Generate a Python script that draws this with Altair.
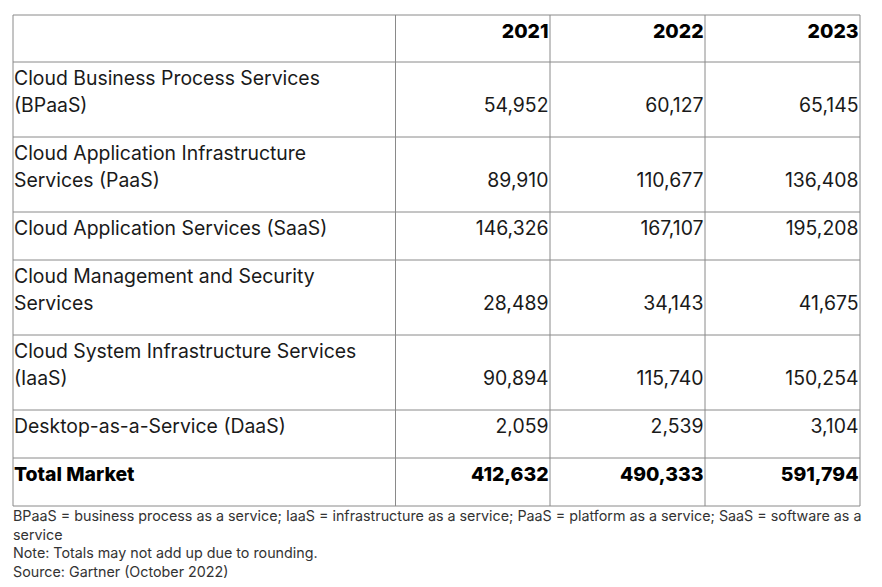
import altair as alt
import pandas as pd

# ---------------- data ----------------
years = ["2021", "2022", "2023"]
segments = [
    "Cloud Business Process Services\n(BPaaS)",
    "Cloud Application Infrastructure\nServices (PaaS)",
    "Cloud Application Services (SaaS)",
    "Cloud Management and Security\nServices",
    "Cloud System Infrastructure Services\n(IaaS)",
    "Desktop-as-a-Service (DaaS)",
]
v2021 = [54952, 89910, 146326, 28489, 90894, 2059]
v2022 = [60127, 110677, 167107, 34143, 115740, 2539]
v2023 = [65145, 136408, 195208, 41675, 150254, 3104]
total_label = "Total Market"
totals = [412632, 490333, 591794]
footnotes = [
    "BPaaS = business process as a service; IaaS = infrastructure as a service; PaaS = platform as a service; SaaS = software as a",
    "service",
    "Note: Totals may not add up due to rounding.",
    "Source: Gartner (October 2022)",
]

# ---------------- layout ----------------
W, H = 866, 571
FONT = "Inter"
FS = 19.4
col_edges = [13, 395.5, 550, 705, 860]
table_top = 15
header_h = 47
line_h = 27
row_base = 21
first_line_off = 16.5
foot_top = 517
foot_lh = 18.6

xs = alt.Scale(domain=[8, 8 + W], nice=False, zero=False)
ys = alt.Scale(domain=[8, 8 + H], nice=False, zero=False, reverse=True)

all_labels = segments + [total_label]
all_vals = [list(v) for v in zip(v2021, v2022, v2023)] + [totals]

# row boundaries
bounds = [table_top, table_top + header_h]
for lab in all_labels:
    n = lab.count("\n") + 1
    bounds.append(bounds[-1] + row_base + n * line_h)
table_bottom = bounds[-1]

rules = []
for b in bounds:
    rules.append(dict(x=col_edges[0], x2=col_edges[-1], y=b, y2=b))
for e in col_edges:
    rules.append(dict(x=e, x2=e, y=table_top, y2=table_bottom))
rules_df = pd.DataFrame(rules)

label_rows, num_rows = [], []
for i, lab in enumerate(all_labels):
    top = bounds[i + 1]
    lines = lab.split("\n")
    bold = lab == total_label
    for j, ln in enumerate(lines):
        label_rows.append(dict(t=ln, x=14, y=top + first_line_off + j * line_h, bold=bold))
    for k, val in enumerate(all_vals[i]):
        num_rows.append(dict(v=val, x=col_edges[k + 2] - 1.5,
                             y=top + first_line_off + (len(lines) - 1) * line_h, bold=bold))
label_df = pd.DataFrame(label_rows)
num_df = pd.DataFrame(num_rows)
head_df = pd.DataFrame([dict(t=yv, x=col_edges[k + 2] - 1.5, y=table_top + first_line_off)
                        for k, yv in enumerate(years)])
foot_df = pd.DataFrame([dict(t=f, x=13, y=foot_top + i * foot_lh) for i, f in enumerate(footnotes)])

grid = alt.Chart(rules_df).mark_rule(color="#8a8a8a", strokeWidth=1).encode(
    x=alt.X("x:Q", scale=xs, axis=None), x2="x2",
    y=alt.Y("y:Q", scale=ys, axis=None), y2="y2")

def txt(df, **kw):
    return alt.Chart(df).mark_text(font=FONT, baseline="middle", **kw)

labels_plain = txt(label_df[~label_df.bold], align="left", fontSize=FS, color="#1a1a1a").encode(
    x=alt.X("x:Q", scale=xs, axis=None), y=alt.Y("y:Q", scale=ys, axis=None), text="t:N")
labels_bold = txt(label_df[label_df.bold], align="left", fontSize=FS, fontWeight=800, color="#000").encode(
    x=alt.X("x:Q", scale=xs, axis=None), y=alt.Y("y:Q", scale=ys, axis=None), text="t:N")
nums_plain = txt(num_df[~num_df.bold], align="right", fontSize=FS, color="#1a1a1a").encode(
    x=alt.X("x:Q", scale=xs, axis=None), y=alt.Y("y:Q", scale=ys, axis=None),
    text=alt.Text("v:Q", format=",d"))
nums_bold = txt(num_df[num_df.bold], align="right", fontSize=FS, fontWeight=800, color="#000").encode(
    x=alt.X("x:Q", scale=xs, axis=None), y=alt.Y("y:Q", scale=ys, axis=None),
    text=alt.Text("v:Q", format=",d"))
header = txt(head_df, align="right", fontSize=FS, fontWeight=800, color="#000").encode(
    x=alt.X("x:Q", scale=xs, axis=None), y=alt.Y("y:Q", scale=ys, axis=None), text="t:N")
foot = txt(foot_df, align="left", fontSize=14.3, color="#333").encode(
    x=alt.X("x:Q", scale=xs, axis=None), y=alt.Y("y:Q", scale=ys, axis=None), text="t:N")

chart = alt.layer(grid, labels_plain, labels_bold, nums_plain, nums_bold, header, foot).properties(
    width=W, height=H, autosize=alt.AutoSizeParams(type="none"), padding=0,
    background="white"
).configure_view(stroke=None)

chart.save("out.html", embed_options={"renderer": "svg", "actions": False})
